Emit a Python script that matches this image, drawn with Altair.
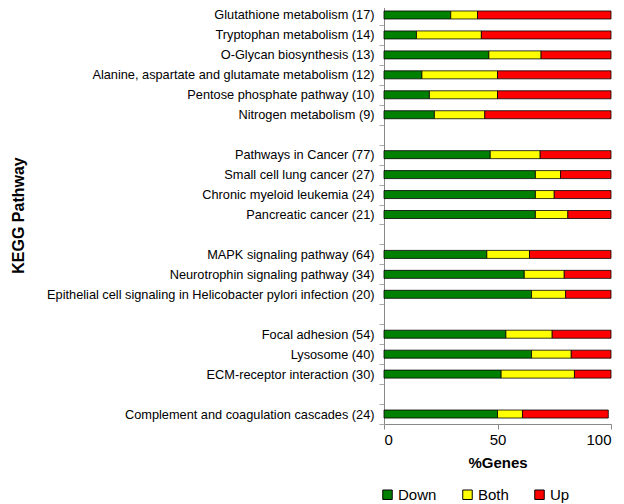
import altair as alt
import pandas as pd

pathways = [
    "Glutathione metabolism (17)",
    "Tryptophan metabolism (14)",
    "O-Glycan biosynthesis (13)",
    "Alanine, aspartate and glutamate metabolism (12)",
    "Pentose phosphate pathway (10)",
    "Nitrogen metabolism (9)",
    "Pathways in Cancer (77)",
    "Small cell lung cancer (27)",
    "Chronic myeloid leukemia (24)",
    "Pancreatic cancer (21)",
    "MAPK signaling pathway (64)",
    "Neurotrophin signaling pathway (34)",
    "Epithelial cell signaling in Helicobacter pylori infection (20)",
    "Focal adhesion (54)",
    "Lysosome (40)",
    "ECM-receptor interaction (30)",
    "Complement and coagulation cascades (24)",
]
down = [29.4, 14.3, 46.2, 16.7, 20.0, 22.2, 46.8, 66.7, 66.7, 66.7, 45.3, 61.8, 65.0, 53.7, 65.0, 51.6, 50.0]
both = [11.8, 28.6, 23.0, 33.3, 30.0, 22.2, 22.0, 11.1, 8.3, 14.3, 18.8, 17.6, 15.0, 20.4, 17.5, 32.3, 11.0]
up = [58.8, 57.1, 30.8, 50.0, 50.0, 55.6, 31.2, 22.2, 25.0, 19.0, 35.9, 20.6, 20.0, 25.9, 17.5, 16.1, 37.8]
series = ["Down", "Both", "Up"]
colors = ["#008000", "#ffff00", "#ff0000"]

rows = []
for i, p in enumerate(pathways):
    for k, (s, v) in enumerate(zip(series, [down[i], both[i], up[i]])):
        rows.append({"pathway": p, "series": s, "value": v, "k": k})
df = pd.DataFrame(rows)

domain = (pathways[:6] + [" "] + pathways[6:10] + ["  "] + pathways[10:13]
          + ["   "] + pathways[13:16] + ["    "] + pathways[16:])

font = "Liberation Sans"

chart = alt.Chart(df).mark_bar(stroke="black", strokeWidth=0.8, size=8).encode(
    x=alt.X("value:Q", stack="zero",
            scale=alt.Scale(domain=[0, 100], nice=False),
            axis=alt.Axis(values=[0, 50, 100], title="%Genes", grid=False,
                          labelFontSize=15, titleFontSize=15, titleFontWeight="bold",
                          labelFont=font, titleFont=font, labelColor="black", titleColor="black",
                          domainColor="#888888", tickColor="#888888", tickSize=5,
                          labelPadding=3, titlePadding=8)),
    y=alt.Y("pathway:N", sort=domain,
            scale=alt.Scale(domain=domain, paddingInner=0, paddingOuter=0),
            axis=alt.Axis(title="KEGG Pathway", tickBand="extent", grid=False,
                          labelFontSize=12.75, titleFontSize=16, titleFontWeight="bold",
                          labelFont=font, titleFont=font, labelColor="black", titleColor="black",
                          domainColor="#888888", tickColor="#aaaaaa", tickSize=5,
                          labelPadding=5, labelLimit=400,
                          titleX=-366, titleY=210, titleAngle=270,
                          titleAlign="center", titleBaseline="middle")),
    color=alt.Color("series:N", scale=alt.Scale(domain=series, range=colors),
                    legend=alt.Legend(title=None, orient="none", direction="horizontal",
                                      legendX=-4, legendY=482,
                                      symbolType="square", symbolSize=90,
                                      symbolStrokeColor="black", symbolStrokeWidth=1,
                                      labelFontSize=15, labelFont=font, labelColor="black",
                                      columnPadding=23, labelOffset=3)),
    order=alt.Order("k:Q"),
).properties(
    width=227, height=419,
    autosize=alt.AutoSizeParams(type="none"),
    padding={"left": 376, "top": -3, "right": 5, "bottom": 85},
).configure_view(stroke=None)

chart.save("out.html", embed_options={"renderer": "svg", "actions": False})
